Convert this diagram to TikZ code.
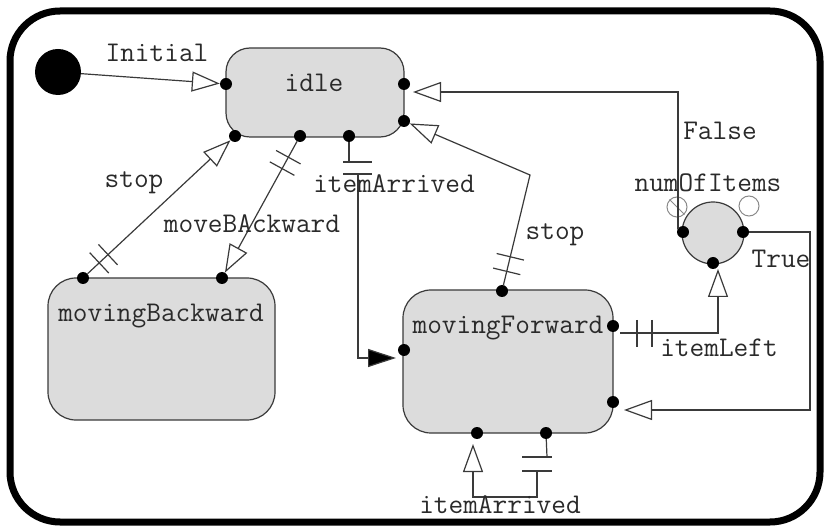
\documentclass[tikz,border=0pt]{standalone}
\usepackage{fontspec}
\usetikzlibrary{arrows.meta,decorations.markings}
\definecolor{fillg}{HTML}{DCDCDC}
\definecolor{lineg}{HTML}{3A3A3A}
\definecolor{txt}{HTML}{2A2A2A}
\definecolor{ghost}{HTML}{8A8A8A}
\begin{document}
\begin{tikzpicture}[x=1pt,y=-1pt,
  statebox/.style={draw=lineg,line width=1.2pt,fill=fillg,rounded corners=24pt,inner sep=0pt},
  port/.style={circle,fill=black,inner sep=0pt,minimum size=12pt},
  lbl/.style={font=\ttfamily\fontsize{28.5}{32}\selectfont,text=txt,anchor=base,inner sep=0pt},
  conn/.style={draw=lineg,line width=1.2pt},
  oa/.style={-{Triangle[open,length=28pt,width=20pt,fill=white]}},
  fa/.style={-{Triangle[length=28pt,width=18pt,fill=black]}},
  dbar/.style 2 args={postaction={decorate,decoration={markings,
    mark=at position #1 with {\draw[conn,-] (0,-14)--(0,14);},
    mark=at position #2 with {\draw[conn,-] (0,-14)--(0,14);}}}}
]
\useasboundingbox (0,0) rectangle (825,529);
\node[draw=black,line width=7pt,rounded corners=50pt,minimum width=810pt,minimum height=511pt,inner sep=0pt] (frame) at (415,266.5) {};

% states
\node[circle,fill=black,minimum size=46pt,inner sep=0pt] (init) at (58,72) {};
\node[statebox,minimum width=178pt,minimum height=89pt] (idle) at (315,92.5) {};
\node[statebox,rounded corners=28pt,minimum width=227pt,minimum height=142pt] (mb) at (161.5,349) {};
\node[statebox,rounded corners=28pt,minimum width=210pt,minimum height=143pt] (mf) at (508,361.5) {};
\node[circle,draw=lineg,line width=1.2pt,fill=fillg,minimum size=62pt,inner sep=0pt] (num) at (713,233) {};
\node[circle,draw=ghost,line width=1pt,minimum size=20pt,inner sep=0pt] (ghA) at (677,207) {};
\draw[ghost,line width=1pt] (ghA.north west) -- (ghA.south east);
\node[circle,draw=ghost,line width=1pt,minimum size=20pt,inner sep=0pt] (ghB) at (749,206) {};

% state names
\node[lbl] (tIdle) at (314,92) {idle};
\node[lbl] (tMB) at (161,322) {movingBackward};
\node[lbl] (tMF) at (508,334) {movingForward};
\node[lbl] (tNum) at (708,192) {numOfItems};

% ports
\node[port] (iL) at (226,84) {};
\node[port] (iR1) at (404,84) {};
\node[port] (iR2) at (404,121) {};
\node[port] (iB1) at (235,136) {};
\node[port] (iB2) at (300,136) {};
\node[port] (iB3) at (349,136) {};
\node[port] (bT1) at (83,278) {};
\node[port] (bT2) at (222,278) {};
\node[port] (fT) at (502,291) {};
\node[port] (fL) at (404,350) {};
\node[port] (fR1) at (613,326) {};
\node[port] (fR2) at (613,402) {};
\node[port] (fB1) at (477,433) {};
\node[port] (fB2) at (546,433) {};
\node[port] (nL) at (683,232) {};
\node[port] (nR) at (743,232) {};
\node[port] (nB) at (713,263) {};

% helper coordinates
\coordinate (iR1in) at (413,92);
\coordinate (fR2in) at (624,410);
\coordinate (nBin) at (718,269);
\coordinate (fLin) at (396,358);
\coordinate (fB1in) at (473,444);
\coordinate (stopBend) at (530,175);
\coordinate (trueA) at (810,232);
\coordinate (falseA) at (678,229);

% Initial
\draw[conn,oa] (init) -- (iL);
\node[lbl] (lInit) at (157,62) {Initial};

% stop (movingBackward -> idle)
\draw[conn,oa,dbar={16pt}{28pt}] (bT1) -- (iB1);
\node[lbl] (lStop1) at (134,188) {stop};

% moveBAckward (idle -> movingBackward)
\draw[conn,oa,dbar={18pt}{31pt}] (iB2) -- (bT2);
\node[lbl] (lMB) at (252,233) {moveBAckward};

% itemArrived (idle -> movingForward)
\coordinate (ia1) at (349,162);
\coordinate (ia2) at (358,174);
\draw[conn] (iB3) -- (ia1);
\draw[conn] (343,162) -- (372,162);
\draw[conn] (343,174) -- (372,174);
\draw[conn,fa] (ia2) |- (fLin);
\node[lbl] (lIA1) at (394,193) {itemArrived};

% stop (movingForward -> idle)
\draw[conn,oa,dbar={14pt}{29pt}] (fT) -- (stopBend) -- (iR2);
\node[lbl] (lStop2) at (555,240) {stop};

% False
\draw[conn,oa] (falseA) |- (iR1in);
\draw[conn] (nL) -- (falseA);
\node[lbl] (lFalse) at (720,140) {False};

% True
\draw[conn,oa] (nR) -- (trueA) |- (fR2in);
\node[lbl] (lTrue) at (781,268) {True};

% itemLeft
\coordinate (il0) at (620,333);
\coordinate (il1) at (652,333);
\draw[conn] (il0) -- (il1);
\draw[conn] (637,320) -- (637,347);
\draw[conn] (652,320) -- (652,347);
\draw[conn,oa] (il1) -| (nBin);
\node[lbl] (lIL) at (719,356) {itemLeft};

% itemArrived (self loop on movingForward)
\coordinate (ib1) at (547,457);
\coordinate (ib2) at (537,471);
\draw[conn] (fB2) -- (ib1);
\draw[conn] (522,457) -- (552,457);
\draw[conn] (522,471) -- (552,471);
\draw[conn,oa] (ib2) -- (537,497) -| (fB1in);
\node[lbl] (lIA2) at (500,513) {itemArrived};
\end{tikzpicture}
\end{document}
